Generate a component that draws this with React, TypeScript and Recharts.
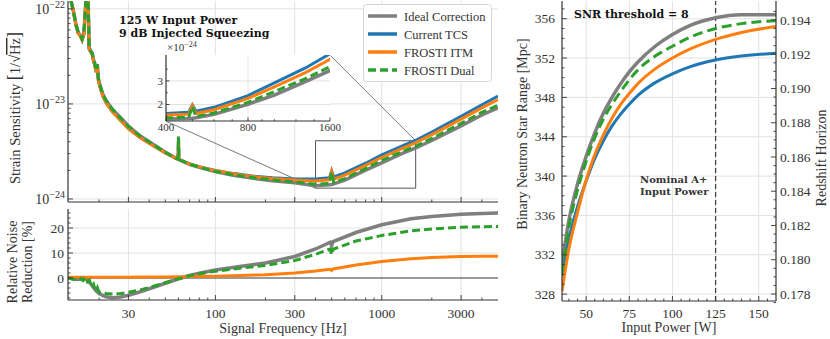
import React from "react";
import { LineChart, Line, XAxis, YAxis, ReferenceLine, ReferenceArea, CartesianGrid } from "recharts";

const GRAY = "#7f7f7f";
const BLUE = "#1f77b4";
const ORANGE = "#ff7f0e";
const GREEN = "#2ca02c";
const INK = "#333333";
const GRID = "#e2e2e2";
const SERIF = "'Liberation Serif', 'DejaVu Serif', serif";
const BOLD = "'DejaVu Serif', serif";

// strain sensitivity, units of 1e-24 / sqrt(Hz)
const freqTop = [13, 13.5, 14, 14.5, 15, 15.4, 15.8, 16.2, 16.6, 16.9, 17.2, 17.4, 17.8, 18.2, 18.5, 18.8, 19.2, 19.5, 19.8, 20.2, 21, 22, 24, 27, 30, 35, 40, 50, 58, 59.6, 60, 60.4, 62, 70, 80, 100, 130, 170, 220, 300, 400, 485, 500, 515, 600, 800, 1000, 1300, 1600, 2000, 2500, 3000, 4000, 5000];
const strainCurrent = [160, 125, 95, 68, 55, 52, 47, 55, 110, 170, 120, 38, 35, 33, 28, 26, 21.5, 25, 17.5, 15.2, 12.2, 10.3, 8.3, 6.65, 5.5, 4.45, 3.85, 3.05, 2.68, 2.63, 4.5, 2.61, 2.55, 2.34, 2.19, 2.0, 1.85, 1.74, 1.67, 1.62, 1.62, 1.67, 1.98, 1.71, 1.88, 2.38, 2.92, 3.55, 4.15, 5.05, 6.25, 7.4, 9.8, 12.1];
const strainItm = [160, 125, 95, 68, 55, 52, 47, 55, 110, 170, 120, 38, 35, 33, 28, 26, 21.5, 25, 17.5, 15.2, 12.2, 10.3, 8.3, 6.65, 5.5, 4.45, 3.85, 3.05, 2.67, 2.62, 4.5, 2.6, 2.55, 2.33, 2.18, 1.99, 1.83, 1.72, 1.64, 1.58, 1.55, 1.59, 1.95, 1.62, 1.78, 2.26, 2.75, 3.35, 3.92, 4.75, 5.85, 6.92, 9.1, 11.1];
const strainDual = [160, 125, 96, 69, 56, 53, 48, 55, 110, 170, 120, 39, 36, 34, 29, 27, 22.5, 26, 18.5, 16, 12.8, 10.9, 8.8, 7.05, 5.8, 4.65, 3.98, 3.1, 2.68, 2.63, 4.5, 2.61, 2.55, 2.32, 2.16, 1.95, 1.79, 1.67, 1.59, 1.51, 1.43, 1.46, 1.92, 1.49, 1.64, 2.09, 2.55, 3.1, 3.6, 4.35, 5.3, 6.25, 8.15, 9.7];
const strainIdeal = [160, 125, 96, 69, 56, 53, 48, 55, 110, 170, 120, 39, 36, 34, 29, 27, 22.5, 26, 18.5, 16, 12.8, 10.9, 8.8, 7.1, 5.85, 4.65, 4.0, 3.1, 2.68, 2.63, 2.63, 2.61, 2.55, 2.32, 2.15, 1.94, 1.77, 1.65, 1.56, 1.48, 1.38, 1.41, 1.42, 1.44, 1.58, 2.01, 2.4, 2.97, 3.44, 4.12, 5.02, 5.88, 7.65, 9.1];

// relative noise reduction [%]
const freqRel = [13, 14, 15, 15.5, 16, 16.5, 17, 17.5, 18, 18.5, 19, 19.5, 20, 21, 22, 24, 27, 30, 35, 40, 50, 60, 70, 80, 100, 140, 200, 300, 400, 490, 500, 510, 700, 1000, 1500, 2000, 3000, 4000, 5000];
const relIdeal = [0, -0.3, -0.6, -0.3, -0.5, -0.2, -0.8, -1.8, -2.8, -3.8, -4.8, -5.6, -6.2, -7.0, -7.5, -7.9, -7.6, -6.9, -5.6, -4.3, -2.1, -0.3, 1.0, 1.9, 3.2, 4.6, 6.0, 8.6, 11.6, 14.3, 13.0, 14.6, 18.2, 21.3, 23.7, 24.6, 25.5, 25.8, 26.0];
const relItm = [0.3, 0.3, 0.3, 0.3, 0.3, 0.3, 0.3, 0.3, 0.3, 0.3, 0.3, 0.3, 0.3, 0.3, 0.3, 0.3, 0.35, 0.35, 0.4, 0.4, 0.45, 0.5, 0.55, 0.6, 0.75, 1.0, 1.3, 2.0, 2.8, 3.5, 3.0, 3.6, 5.2, 6.6, 7.7, 8.2, 8.6, 8.7, 8.7];
const relDual = [0, -0.5, -1.0, -0.2, -1.0, 0.3, -1.5, -0.8, -3.5, -2.5, -5.0, -3.8, -5.8, -5.5, -6.2, -6.4, -6.2, -5.7, -4.8, -3.8, -1.9, -0.3, 0.9, 1.7, 2.7, 3.9, 5.0, 7.0, 9.5, 11.6, 9.3, 11.5, 14.8, 17.0, 18.9, 19.6, 20.3, 20.5, 20.6];

// BNS range [Mpc] vs input power [W]
const power = [36, 40, 45, 50, 55, 60, 65, 70, 75, 80, 90, 100, 110, 125, 140, 160];
const rangeIdeal = [331.0, 335.5, 339.2, 342.0, 344.4, 346.4, 348.0, 349.4, 350.6, 351.6, 353.2, 354.4, 355.3, 356.1, 356.4, 356.4];
const rangeCurrent = [329.8, 333.6, 336.9, 339.5, 341.8, 343.6, 345.1, 346.3, 347.3, 348.2, 349.5, 350.4, 351.1, 351.8, 352.2, 352.5];
const rangeItm = [328.3, 332.6, 336.3, 339.6, 342.2, 344.2, 345.9, 347.3, 348.4, 349.4, 350.9, 352.0, 352.9, 353.9, 354.6, 355.2];
const rangeDual = [330.2, 334.8, 338.6, 341.5, 343.9, 345.8, 347.3, 348.6, 349.8, 350.8, 352.2, 353.2, 354.1, 355.0, 355.5, 355.8];

// ticks
const fMajors = [30, 100, 300, 1000, 3000];
const fTicks = [20, 30, 40, 50, 60, 70, 80, 90, 100, 200, 300, 400, 500, 600, 700, 800, 900, 1000, 2000, 3000, 4000];
const sMajors = [1, 10, 100];
const sTicks = [1, 2, 3, 4, 5, 6, 7, 8, 9, 10, 20, 30, 40, 50, 60, 70, 80, 90, 100];
const rMajors = [0, 10, 20];
const rTicks = [-8, -6, -4, -2, 0, 2, 4, 6, 8, 10, 12, 14, 16, 18, 20, 22, 24, 26];
const iMajorsX = [400, 800, 1600];
const iTicksX = [400, 500, 600, 700, 800, 900, 1000, 1200, 1400, 1600];
const iMajorsY = [2, 3];
const iTicksY = [1.5, 2, 2.5, 3, 3.5];
const pMajors = [50, 75, 100, 125, 150];
const pTicks = [40, 45, 50, 55, 60, 65, 70, 75, 80, 85, 90, 95, 100, 105, 110, 115, 120, 125, 130, 135, 140, 145, 150, 155];
const mMajors = [328, 332, 336, 340, 344, 348, 352, 356];
const mTicks = Array.from({ length: 30 }, (_, i) => 328 + i);
const zMajors = [0.178, 0.18, 0.182, 0.184, 0.186, 0.188, 0.19, 0.192, 0.194];
const zTicks = Array.from({ length: 35 }, (_, i) => Number((0.1775 + i * 0.0005).toFixed(4)));

const topRows = freqTop.map((f, i) => ({ f, cur: strainCurrent[i], itm: strainItm[i], dual: strainDual[i], ideal: strainIdeal[i] }));
const relRows = freqRel.map((f, i) => ({ f, ideal: relIdeal[i], itm: relItm[i], dual: relDual[i] }));
const powRows = power.map((p, i) => ({ p, ideal: rangeIdeal[i], cur: rangeCurrent[i], itm: rangeItm[i], dual: rangeDual[i] }));

type Side = "bottom" | "top" | "left" | "right";
const isIn = (v: number, list: number[]) => list.some((m) => Math.abs(m - v) <= Math.abs(m) * 1e-6 + 1e-9);

function tickFn(side: Side, majors: number[], opts: { label?: (v: number) => React.ReactNode; len?: number; gap?: number; size?: number } = {}) {
  const { label, len = 5, gap = 4, size = 13.5 } = opts;
  return (p: any) => {
    const { x, y, payload } = p;
    const v = payload.value;
    const major = isIn(v, majors);
    const l = major ? len : len * 0.5;
    let x2 = x, y2 = y, tx = x, ty = y, anchor = "middle";
    if (side === "bottom") { y2 = y - l; ty = y + gap; }
    if (side === "top") { y2 = y + l; }
    if (side === "left") { x2 = x + l; tx = x - gap; ty = y + size * 0.35; anchor = "end"; }
    if (side === "right") { x2 = x - l; tx = x + gap; ty = y + size * 0.35; anchor = "start"; }
    return (
      <g>
        <line x1={x} y1={y} x2={x2} y2={y2} stroke={INK} strokeWidth={0.9} />
        {label && major ? (
          <text x={tx} y={ty} textAnchor={anchor} fontFamily={SERIF} fontSize={size} fill={INK}>
            {label(v)}
          </text>
        ) : null}
      </g>
    );
  };
}

const frame = { stroke: INK, strokeWidth: 1.2 };
const pow10 = (v: number) => (
  <>
    <tspan>10</tspan>
    <tspan dy={-6} fontSize={10}>{"\u2212" + (24 - Math.round(Math.log10(v)))}</tspan>
  </>
);
const plain = (v: number) => (v < 0 ? "\u2212" + Math.abs(v) : String(v));

function logX(id: string, side: Side, ticks: number[], majors: number[], domain: number[], height: number, opts: any = {}) {
  return (
    <XAxis xAxisId={id} dataKey="f" orientation={side === "top" ? "top" : "bottom"} type="number" scale="log" domain={domain} allowDataOverflow ticks={ticks} interval={0} tickSize={0} tickMargin={0} tickLine={false} axisLine={frame} height={height} tick={tickFn(side, majors, opts)} />
  );
}

function StrainChart() {
  return (
    <LineChart width={500} height={208} data={topRows} margin={{ top: 1, right: 2, bottom: 0, left: 0 }}>
      <CartesianGrid xAxisId="b" yAxisId="l" stroke={GRID} horizontalValues={sMajors} verticalValues={fMajors} />
      {logX("b", "bottom", fTicks, fMajors, [13, 5000], 6)}
      {logX("t", "top", fTicks, fMajors, [13, 5000], 0)}
      <YAxis yAxisId="l" type="number" scale="log" domain={[0.93, 121]} allowDataOverflow ticks={sTicks} interval={0} tickSize={0} tickMargin={0} tickLine={false} axisLine={frame} width={68} tick={tickFn("left", sMajors, { label: pow10, gap: 3, size: 14 })} />
      <YAxis yAxisId="r" orientation="right" type="number" scale="log" domain={[0.93, 121]} allowDataOverflow ticks={sTicks} interval={0} tickSize={0} tickMargin={0} tickLine={false} axisLine={frame} width={0} tick={tickFn("right", sMajors)} />
      <ReferenceArea xAxisId="b" yAxisId="l" x1={400} x2={1600} y1={1.3} y2={4.1} fill="none" stroke="#555" strokeWidth={1} />
      <ReferenceLine xAxisId="b" yAxisId="l" segment={[{ x: 50.7, y: 6.56 }, { x: 400, y: 1.3 }]} stroke="#555" strokeWidth={0.8} />
      <ReferenceLine xAxisId="b" yAxisId="l" segment={[{ x: 493, y: 32.2 }, { x: 1600, y: 4.1 }]} stroke="#555" strokeWidth={0.8} />
      <Line xAxisId="b" yAxisId="l" dataKey="ideal" stroke={GRAY} strokeWidth={3.5} dot={false} activeDot={false} isAnimationActive={false} />
      <Line xAxisId="b" yAxisId="l" dataKey="cur" stroke={BLUE} strokeWidth={3} dot={false} activeDot={false} isAnimationActive={false} />
      <Line xAxisId="b" yAxisId="l" dataKey="itm" stroke={ORANGE} strokeWidth={3} dot={false} activeDot={false} isAnimationActive={false} />
      <Line xAxisId="b" yAxisId="l" dataKey="dual" stroke={GREEN} strokeWidth={3} strokeDasharray="8 4" dot={false} activeDot={false} isAnimationActive={false} />
    </LineChart>
  );
}

function InsetChart() {
  return (
    <LineChart width={210} height={100} data={topRows} margin={{ top: 15, right: 20, bottom: 0, left: 0 }}>
      <CartesianGrid xAxisId="b" yAxisId="l" stroke={GRID} fill="#ffffff" fillOpacity={1} horizontalValues={iMajorsY} verticalValues={[800]} />
      {logX("b", "bottom", iTicksX, iMajorsX, [400, 1600], 19, { label: (v: number) => String(v), len: 3.5, gap: 10, size: 11 })}
      {logX("t", "top", iTicksX, iMajorsX, [400, 1600], 0, { len: 3.5 })}
      <YAxis yAxisId="l" type="number" domain={[1.3, 4.1]} allowDataOverflow ticks={iTicksY} interval={0} tickSize={0} tickMargin={0} tickLine={false} axisLine={frame} width={26} tick={tickFn("left", iMajorsY, { label: (v: number) => String(v), len: 3.5, gap: 3, size: 11 })} />
      <YAxis yAxisId="r" orientation="right" type="number" domain={[1.3, 4.1]} allowDataOverflow ticks={iTicksY} interval={0} tickSize={0} tickMargin={0} tickLine={false} axisLine={frame} width={0} tick={tickFn("right", iMajorsY, { len: 3.5 })} />
      <Line xAxisId="b" yAxisId="l" dataKey="ideal" stroke={GRAY} strokeWidth={3.5} dot={false} activeDot={false} isAnimationActive={false} />
      <Line xAxisId="b" yAxisId="l" dataKey="cur" stroke={BLUE} strokeWidth={3} dot={false} activeDot={false} isAnimationActive={false} />
      <Line xAxisId="b" yAxisId="l" dataKey="itm" stroke={ORANGE} strokeWidth={3} dot={false} activeDot={false} isAnimationActive={false} />
      <Line xAxisId="b" yAxisId="l" dataKey="dual" stroke={GREEN} strokeWidth={3} strokeDasharray="8 4" dot={false} activeDot={false} isAnimationActive={false} />
    </LineChart>
  );
}

function ReductionChart() {
  return (
    <LineChart width={500} height={131} data={relRows} margin={{ top: 1, right: 2, bottom: 0, left: 0 }}>
      <CartesianGrid xAxisId="b" yAxisId="l" stroke={GRID} horizontalValues={[10, 20]} verticalValues={fMajors} />
      {logX("b", "bottom", fTicks, fMajors, [13, 5000], 39, { label: (v: number) => String(v), gap: 18 })}
      {logX("t", "top", fTicks, fMajors, [13, 5000], 0)}
      <YAxis yAxisId="l" type="number" domain={[-8.8, 27.6]} allowDataOverflow ticks={rTicks} interval={0} tickSize={0} tickMargin={0} tickLine={false} axisLine={frame} width={68} tick={tickFn("left", rMajors, { label: plain, gap: 4 })} />
      <YAxis yAxisId="r" orientation="right" type="number" domain={[-8.8, 27.6]} allowDataOverflow ticks={rTicks} interval={0} tickSize={0} tickMargin={0} tickLine={false} axisLine={frame} width={0} tick={tickFn("right", rMajors)} />
      <ReferenceLine xAxisId="b" yAxisId="l" y={0} stroke="#000" strokeWidth={0.8} />
      <Line xAxisId="b" yAxisId="l" dataKey="ideal" stroke={GRAY} strokeWidth={3.5} dot={false} activeDot={false} isAnimationActive={false} />
      <Line xAxisId="b" yAxisId="l" dataKey="itm" stroke={ORANGE} strokeWidth={3} dot={false} activeDot={false} isAnimationActive={false} />
      <Line xAxisId="b" yAxisId="l" dataKey="dual" stroke={GREEN} strokeWidth={3} strokeDasharray="8 4" dot={false} activeDot={false} isAnimationActive={false} />
    </LineChart>
  );
}

function RangeChart() {
  return (
    <LineChart width={330} height={339} data={powRows} margin={{ top: 1, right: 0, bottom: 0, left: 0 }}>
      <CartesianGrid xAxisId="b" yAxisId="l" stroke={GRID} horizontalValues={mMajors} verticalValues={pMajors} />
      <XAxis xAxisId="b" dataKey="p" type="number" domain={[36, 160]} allowDataOverflow ticks={pTicks} interval={0} tickSize={0} tickMargin={0} tickLine={false} axisLine={frame} height={38} tick={tickFn("bottom", pMajors, { label: (v: number) => String(v), gap: 17 })} />
      <XAxis xAxisId="t" dataKey="p" orientation="top" type="number" domain={[36, 160]} allowDataOverflow ticks={pTicks} interval={0} tickSize={0} tickMargin={0} tickLine={false} axisLine={frame} height={0} tick={tickFn("top", pMajors)} />
      <YAxis yAxisId="l" type="number" domain={[327.3, 357.8]} allowDataOverflow ticks={mTicks} interval={0} tickSize={0} tickMargin={0} tickLine={false} axisLine={frame} width={62} tick={tickFn("left", mMajors, { label: (v: number) => String(v), gap: 7 })} />
      <YAxis yAxisId="r" orientation="right" type="number" domain={[0.17759, 0.19511]} allowDataOverflow ticks={zTicks} interval={0} tickSize={0} tickMargin={0} tickLine={false} axisLine={frame} width={54} tick={tickFn("right", zMajors, { label: (v: number) => v.toFixed(3), gap: 4 })} />
      <ReferenceLine xAxisId="b" yAxisId="l" x={125} stroke="#444" strokeWidth={1.3} strokeDasharray="5 3" />
      <Line xAxisId="b" yAxisId="l" type="monotone" dataKey="ideal" stroke={GRAY} strokeWidth={3.5} dot={false} activeDot={false} isAnimationActive={false} />
      <Line xAxisId="b" yAxisId="l" type="monotone" dataKey="cur" stroke={BLUE} strokeWidth={3} dot={false} activeDot={false} isAnimationActive={false} />
      <Line xAxisId="b" yAxisId="l" type="monotone" dataKey="itm" stroke={ORANGE} strokeWidth={3} dot={false} activeDot={false} isAnimationActive={false} />
      <Line xAxisId="b" yAxisId="l" type="monotone" dataKey="dual" stroke={GREEN} strokeWidth={3} strokeDasharray="10 5" dot={false} activeDot={false} isAnimationActive={false} />
    </LineChart>
  );
}

const legendItems = [
  { name: "Ideal Correction", color: GRAY, dash: undefined },
  { name: "Current TCS", color: BLUE, dash: undefined },
  { name: "FROSTI ITM", color: ORANGE, dash: undefined },
  { name: "FROSTI Dual", color: GREEN, dash: "8 4" },
];

function Labels() {
  const t = { fontFamily: SERIF, fill: INK };
  return (
    <svg width={830} height={339} style={{ position: "absolute", left: 0, top: 0, pointerEvents: "none" }}>
      <text transform="translate(20,108) rotate(-90)" textAnchor="middle" fontSize={14.5} {...t}>
        Strain Sensitivity <tspan fontSize={18}>[</tspan>1/√<tspan style={{ textDecoration: "overline" }}>Hz</tspan><tspan fontSize={18}>]</tspan>
      </text>
      <text transform="translate(17,262) rotate(-90)" textAnchor="middle" fontSize={14} {...t}>Relative Noise</text>
      <text transform="translate(32,262) rotate(-90)" textAnchor="middle" fontSize={14} {...t}>Reduction [%]</text>
      <text x={283} y={333} textAnchor="middle" fontSize={14} {...t}>Signal Frequency [Hz]</text>
      <text transform="translate(527,134) rotate(-90)" textAnchor="middle" fontSize={14} {...t}>Binary Neutron Star Range [Mpc]</text>
      <text x={669} y={332} textAnchor="middle" fontSize={14} {...t}>Input Power [W]</text>
      <text transform="translate(826,158) rotate(-90)" textAnchor="middle" fontSize={14} {...t}>Redshift Horizon</text>
      <text x={167} y={51} fontSize={11} {...t}>×10<tspan dy={-4} fontSize={8}>−24</tspan></text>
      <text x={119} y={24} fontFamily={BOLD} fontWeight="bold" fontSize={11} fill="#111">125 W Input Power</text>
      <text x={119} y={37} fontFamily={BOLD} fontWeight="bold" fontSize={11} fill="#111">9 dB Injected Squeezing</text>
      <text x={574} y={18} fontFamily={BOLD} fontWeight="bold" fontSize={11} fill="#111">SNR threshold = 8</text>
      <text x={640} y={183} fontFamily={BOLD} fontWeight="bold" fontSize={10} fill="#333">Nominal A+</text>
      <text x={640} y={195} fontFamily={BOLD} fontWeight="bold" fontSize={10} fill="#333">Input Power</text>
      <rect x={363.5} y={4.5} width={128} height={77} rx={3} fill="#fff" fillOpacity={0.85} stroke="#d6d6d6" />
      {legendItems.map((it, i) => (
        <g key={it.name}>
          <line x1={368} x2={397} y1={16 + i * 18} y2={16 + i * 18} stroke={it.color} strokeWidth={3.5} strokeDasharray={it.dash} />
          <text x={404} y={20.5 + i * 18} fontSize={12.5} {...t}>{it.name}</text>
        </g>
      ))}
    </svg>
  );
}

export default function App() {
  return (
    <div style={{ position: "absolute", left: 0, top: 0, width: 830, height: 339, overflow: "hidden", background: "#fff" }}>
      <div style={{ position: "absolute", left: 0, top: 0 }}>
        <StrainChart />
      </div>
      <div style={{ position: "absolute", left: 0, top: 208 }}>
        <ReductionChart />
      </div>
      <div style={{ position: "absolute", left: 140, top: 40 }}>
        <InsetChart />
      </div>
      <div style={{ position: "absolute", left: 500, top: 0 }}>
        <RangeChart />
      </div>
      <Labels />
    </div>
  );
}
